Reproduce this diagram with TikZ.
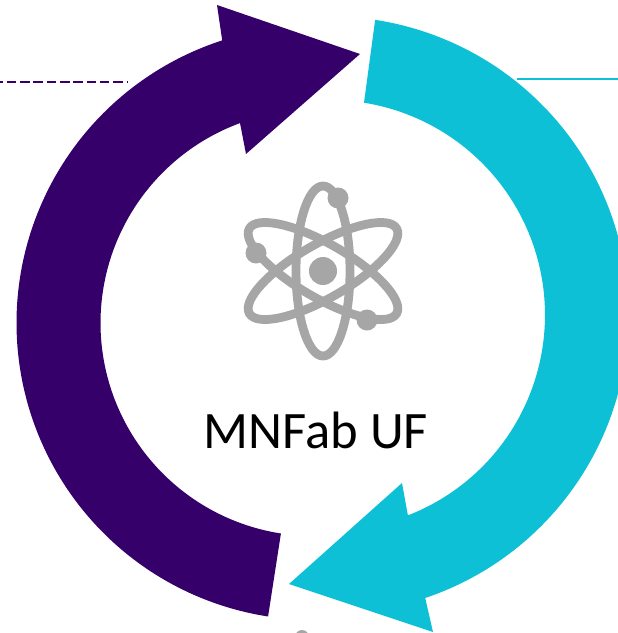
\documentclass[tikz,border=0pt]{standalone}
\usepackage{fontspec}
\setmainfont{Carlito}
\definecolor{arrowpurple}{HTML}{36006A}
\definecolor{arrowcyan}{HTML}{0DC0D6}
\definecolor{atomgray}{HTML}{A6A6A6}
\tikzset{
  atomorbit/.style={draw=atomgray,line width=8.8pt},
  atomdot/.style={fill=atomgray},
  bigarrow/.style={draw=none}
}
\begin{document}
\begin{tikzpicture}[x=1pt,y=-1pt]
\useasboundingbox (0,0) rectangle (618,633);
\clip (0,0) rectangle (618,633);
% purple arrow
\fill[arrowpurple,bigarrow]
  plot[domain=98.8:252.1,samples=80,smooth] ({313.5+297*cos(\x)},{323+297*sin(\x)})
  -- (217,5) -- (360,54) -- (246,154) -- (240,123)
  -- plot[domain=249.8:98.8,samples=80,smooth] ({313.5+213*cos(\x)},{323+213*sin(\x)})
  -- cycle;
% cyan arrow
\fill[arrowcyan,bigarrow]
  plot[domain=-81.3:71.4,samples=80,smooth] ({330+298.6*cos(\x)},{315+298.6*sin(\x)})
  -- (433,632) -- (289,584) -- (402,483) -- (408,516)
  -- plot[domain=68.8:-80.9,samples=80,smooth] ({330+215*cos(\x)},{315+215*sin(\x)})
  -- cycle;
% side lines
\coordinate (pl) at (0,82);
\coordinate (pr) at (127,82);
\coordinate (cl) at (517,79);
\coordinate (cr) at (618,79);
\draw[arrowpurple,line width=2.8pt,dash pattern=on 9.5pt off 3.8pt,dash phase=6.5pt] (pl) -- (pr);
\draw[arrowcyan,line width=2.8pt] (cl) -- (cr);
% atom
\coordinate (atom) at (323,271);
\draw[atomorbit] (atom) ellipse [x radius=27,y radius=85];
\draw[atomorbit,rotate around={60:(atom)}] (atom) ellipse [x radius=27,y radius=85];
\draw[atomorbit,rotate around={-60:(atom)}] (atom) ellipse [x radius=27,y radius=85];
\fill[atomdot] (atom) circle [radius=14];
\fill[atomdot] (338,198) circle [radius=10.5];
\fill[atomdot] (256,253) circle [radius=10.5];
\fill[atomdot] (367,320) circle [radius=10.5];
\fill[atomdot] (302,637) circle [radius=7];
% label
\node[inner sep=0pt,anchor=base,font=\fontsize{52.6}{60}\selectfont] (label) at (316,448) {MNFab UF};
\end{tikzpicture}
\end{document}
